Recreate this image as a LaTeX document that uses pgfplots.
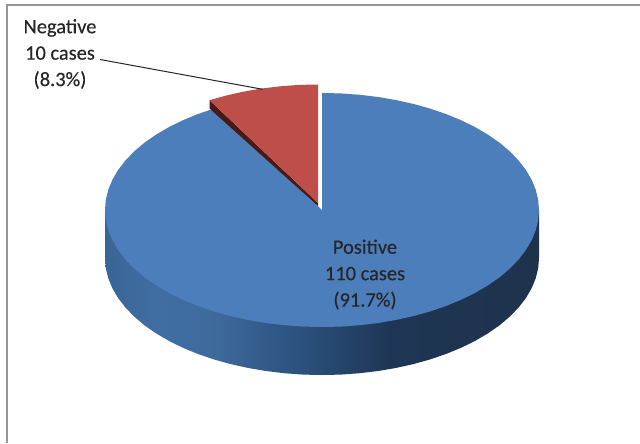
\documentclass[border=0pt]{standalone}
\usepackage{fontspec}
\setmainfont{Carlito}
\newfontfamily\labelfont{Carlito}[FakeBold=0.25]
\usepackage{pgfplots}
\pgfplotsset{compat=1.18}

\definecolor{pieblue}{RGB}{76,126,187}
\definecolor{piered}{RGB}{190,78,74}
\definecolor{piemaroon}{RGB}{72,26,22}
\definecolor{framegray}{RGB}{150,150,150}

% Stops of the light falloff along the rim of the disc
\definecolor{rimA}{RGB}{58,100,150}
\definecolor{rimB}{RGB}{64,110,163}
\definecolor{rimC}{RGB}{62,105,155}
\definecolor{rimD}{RGB}{45,85,130}
\definecolor{rimE}{RGB}{35,64,100}
\definecolor{rimF}{RGB}{30,54,84}
\definecolor{rimG}{RGB}{30,50,76}
\pgfdeclarehorizontalshading{rimshade}{100bp}{
  color(0bp)=(rimA);
  color(25bp)=(rimA);
  color(31bp)=(rimB);
  color(38bp)=(rimC);
  color(46bp)=(rimD);
  color(54bp)=(rimE);
  color(58bp)=(rimF);
  color(75bp)=(rimG);
  color(100bp)=(rimG)
}

\begin{document}
\begin{tikzpicture}
\begin{axis}[
  at={(0,0)}, anchor=south west,
  scale only axis, width=640bp, height=443bp,
  xmin=0, xmax=640, ymin=0, ymax=443, y dir=reverse,
  hide axis, clip=true,
]
% Canvas
\addplot[draw=none, fill=white, mark=none] coordinates {(0,0)(640,0)(640,443)(0,443)(0,0)};

% Chart frame: left and top edges only
\addplot[framegray, line width=1.8bp, mark=none] coordinates {(7,443)(7,5)(640,5)};

% Rim of the disc (Positive)
\addplot[draw=none, shading=rimshade, mark=none] coordinates {
(539,210)(539,258)(538.2,268.2)(535.7,278.3)(531.6,288.3)(525.9,298)(518.7,307.4)(509.9,316.5)
(499.8,325.1)(488.2,333.2)(475.4,340.7)(461.5,347.6)(446.5,353.8)(430.5,359.3)(413.7,364)
(396.2,367.9)(378.2,371)(359.7,373.2)(340.9,374.6)(322,375)(303.1,374.6)(284.3,373.2)
(265.8,371)(247.8,367.9)(230.3,364)(213.5,359.3)(197.5,353.8)(182.5,347.6)(168.6,340.7)
(155.8,333.2)(144.2,325.1)(134.1,316.5)(125.3,307.4)(118.1,298)(112.4,288.3)(108.3,278.3)
(105.8,268.2)(105,258)(105,210)(539,210)};

% Top face of the Positive slice: 110 cases, 330 degrees
\addplot[draw=none, fill=pieblue, mark=none] coordinates {
(322,210)(322,93)(340.9,93.4)(359.7,94.8)(378.2,97)(396.2,100.1)(413.7,104)(430.5,108.7)
(446.5,114.2)(461.5,120.4)(475.4,127.3)(488.2,134.8)(499.8,142.9)(509.9,151.5)(518.7,160.6)
(525.9,170)(531.6,179.7)(535.7,189.7)(538.2,199.8)(539,210)
(538.2,220.2)(535.7,230.3)(531.6,240.3)(525.9,250)(518.7,259.4)(509.9,268.5)(499.8,277.1)
(488.2,285.2)(475.4,292.7)(461.5,299.6)(446.5,305.8)(430.5,311.3)(413.7,316)(396.2,319.9)
(378.2,323)(359.7,325.2)(340.9,326.6)(322,327)
(303.1,326.6)(284.3,325.2)(265.8,323)(247.8,319.9)(230.3,316)(213.5,311.3)(197.5,305.8)
(182.5,299.6)(168.6,292.7)(155.8,285.2)(144.2,277.1)(134.1,268.5)(125.3,259.4)(118.1,250)
(112.4,240.3)(108.3,230.3)(105.8,220.2)(105,210)
(105.8,199.8)(108.3,189.7)(112.4,179.7)(118.1,170)(125.3,160.6)(134.1,151.5)(144.2,142.9)
(155.8,134.8)(168.6,127.3)(182.5,120.4)(197.5,114.2)(213.5,108.7)(322,210)};

% Cut face of the pulled-out Negative slice
\addplot[draw=none, fill=piemaroon, mark=none] coordinates {
(209.5,100.2)(209.5,108.5)(318,206)(318,203)(209.5,100.2)};

% Top face of the Negative slice: 10 cases, 30 degrees
\addplot[draw=none, fill=piered, mark=none] coordinates {
(318,203)(209.5,100.2)(226.3,95.5)(243.8,91.6)(261.8,88.5)(280.3,86.3)(299.1,84.9)(318,84.5)(318,203)};

% Leader from the Negative label to its slice
\addplot[black!85, line width=1bp, mark=none] coordinates {(100,59.5)(262.7,89.3)};

\node[align=center, font=\labelfont\fontsize{20.5}{26.5}\selectfont, text=black!85] at (axis cs:60,54)
  {Negative\\10 cases\\(8.3\%)};
\node[align=center, font=\labelfont\fontsize{20.5}{26.5}\selectfont, text=black!85] at (axis cs:365,274.5)
  {Positive\\110 cases\\(91.7\%)};
\end{axis}
\end{tikzpicture}
\end{document}
